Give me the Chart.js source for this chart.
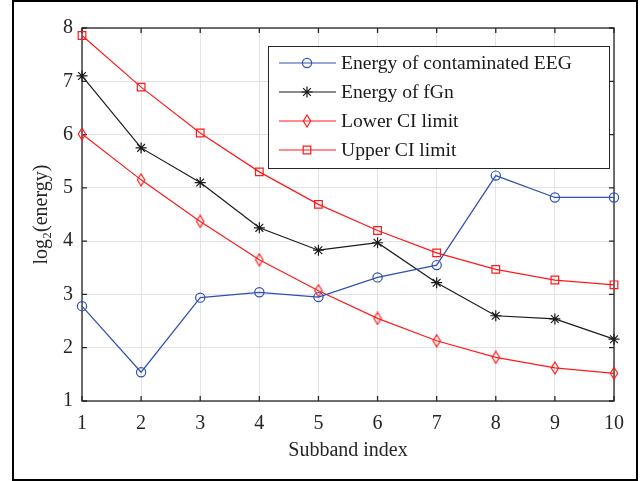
<!DOCTYPE html>
<html><head><meta charset="utf-8">
<script src="https://cdn.jsdelivr.net/npm/chart.js@4/dist/chart.umd.min.js"></script>
<style>html,body{margin:0;padding:0;background:#fff}#wrap{width:640px;height:481px;position:relative}</style>
</head><body><div id="wrap"><canvas id="c" width="640" height="481"></canvas></div>
<script>
const subbands = ['1','2','3','4','5','6','7','8','9','10'];
const eegEnergy = [2.78, 1.54, 2.94, 3.04, 2.95, 3.32, 3.55, 5.23, 4.82, 4.82];
const fgnEnergy = [7.10, 5.75, 5.10, 4.25, 3.83, 3.97, 3.22, 2.60, 2.54, 2.16];
const lowerCI   = [6.01, 5.15, 4.37, 3.65, 3.07, 2.55, 2.13, 1.82, 1.62, 1.52];
const upperCI   = [7.86, 6.89, 6.03, 5.30, 4.69, 4.20, 3.78, 3.47, 3.27, 3.18];
const seriesNames = ['Energy of contaminated EEG', 'Energy of fGn', 'Lower CI limit', 'Upper CI limit'];
const yTicks = [1, 2, 3, 4, 5, 6, 7, 8];
const xTitle = 'Subband index';
const yTitle = 'log\u2082(energy)';

const BLUE = '#3050b4', RED = '#ff1a1a', BLACK = '#1a1a1a';
const FONT = '"Liberation Serif", "Times New Roman", serif';

function diamond(color) {
  const w = 10, h = 14, cv = document.createElement('canvas');
  cv.width = w; cv.height = h;
  const g = cv.getContext('2d');
  g.strokeStyle = color; g.lineWidth = 1.2;
  g.beginPath();
  g.moveTo(w/2, 1); g.lineTo(w-1.3, h/2); g.lineTo(w/2, h-1); g.lineTo(1.3, h/2); g.closePath();
  g.stroke();
  return cv;
}
const diamondImg = diamond(RED);

const frame = {
  id: 'frame',
  beforeDraw(chart) {
    const c = chart.ctx; c.save(); c.fillStyle = '#fff'; c.fillRect(0, 0, chart.width, chart.height); c.restore();
  },
  beforeDatasetsDraw(chart) {
    const {ctx, chartArea: a, scales: {x, y}} = chart;
    ctx.save();
    ctx.strokeStyle = '#262626'; ctx.lineWidth = 1.3;
    ctx.strokeRect(a.left, a.top, a.right - a.left, a.bottom - a.top);
    ctx.beginPath();
    subbands.forEach((s, i) => {
      const px = x.getPixelForValue(i);
      ctx.moveTo(px, a.bottom); ctx.lineTo(px, a.bottom - 5);
      ctx.moveTo(px, a.top); ctx.lineTo(px, a.top + 5);
    });
    yTicks.forEach(v => {
      const py = y.getPixelForValue(v);
      ctx.moveTo(a.left, py); ctx.lineTo(a.left + 5, py);
      ctx.moveTo(a.right, py); ctx.lineTo(a.right - 5, py);
    });
    ctx.stroke();
    ctx.restore();
  },
  afterDraw(chart) {
    const ctx = chart.ctx;
    ctx.save();
    // legend
    const L = 268, T = 46, R = 609, B = 168;
    ctx.fillStyle = '#fff'; ctx.fillRect(L, T, R - L, B - T);
    ctx.strokeStyle = '#262626'; ctx.lineWidth = 1; ctx.strokeRect(L + 0.5, T + 0.5, R - L, B - T);
    chart.data.datasets.forEach((ds, i) => {
      const cy = 63 + 29 * i;
      ctx.strokeStyle = ds.borderColor; ctx.lineWidth = 1.2;
      ctx.beginPath(); ctx.moveTo(279, cy); ctx.lineTo(336, cy); ctx.stroke();
      const st = ds.pointStyle;
      if (st instanceof HTMLCanvasElement) {
        ctx.drawImage(st, 307 - st.width / 2, cy - st.height / 2);
      } else {
        ctx.fillStyle = 'rgba(0,0,0,0)';
        Chart.helpers.drawPoint(ctx, {pointStyle: st, radius: ds.pointRadius, borderWidth: 1.2, rotation: 0}, 307, cy);
      }
      ctx.fillStyle = '#1a1a1a'; ctx.font = '19.6px ' + FONT; ctx.textBaseline = 'middle';
      ctx.fillText(ds.label, 341, cy + 1);
    });
    // outer border
    ctx.strokeStyle = '#000'; ctx.lineWidth = 2;
    ctx.strokeRect(13, 1, 624, 479);
    ctx.restore();
  }
};

function ds(label, data, color, style, radius) {
  return {
    label, data, borderColor: color, backgroundColor: 'rgba(0,0,0,0)',
    pointBorderColor: color, pointBackgroundColor: 'rgba(0,0,0,0)',
    pointStyle: style, pointRadius: radius, pointHoverRadius: radius,
    pointBorderWidth: 1.2, borderWidth: 1.2, tension: 0, fill: false
  };
}

new Chart(document.getElementById('c'), {
  type: 'line',
  data: {
    labels: subbands,
    datasets: [
      ds(seriesNames[0], eegEnergy, BLUE, 'circle', 4.6),
      ds(seriesNames[1], fgnEnergy, BLACK, 'star', 5.5),
      ds(seriesNames[2], lowerCI, RED, diamondImg, 6),
      ds(seriesNames[3], upperCI, RED, 'rect', 5.4)
    ]
  },
  options: {
    responsive: false, animation: false, devicePixelRatio: 1,
    layout: {padding: {left: 0, top: 28, right: 26, bottom: 0}},
    plugins: {legend: {display: false}, tooltip: {enabled: false}},
    scales: {
      x: {
        type: 'category', offset: false,
        afterFit(s) { s.height = 80; },
        grid: {color: '#e3e3e3', lineWidth: 1, drawTicks: false},
        border: {display: false},
        ticks: {color: '#262626', font: {family: FONT, size: 20}, padding: 11, maxRotation: 0},
        title: {display: true, text: xTitle, color: '#262626', font: {family: FONT, size: 20}, padding: {top: 0, bottom: 18}}
      },
      y: {
        min: 1, max: 8,
        afterFit(s) { s.width = 82; },
        afterBuildTicks(s) { s.ticks = yTicks.map(v => ({value: v})); },
        grid: {color: '#e3e3e3', lineWidth: 1, drawTicks: false},
        border: {display: false},
        ticks: {color: '#262626', font: {family: FONT, size: 20}, padding: 9},
        title: {display: true, text: yTitle, color: '#262626', font: {family: FONT, size: 20}, padding: {top: 30, bottom: 0}}
      }
    }
  },
  plugins: [frame]
});
</script></body></html>
